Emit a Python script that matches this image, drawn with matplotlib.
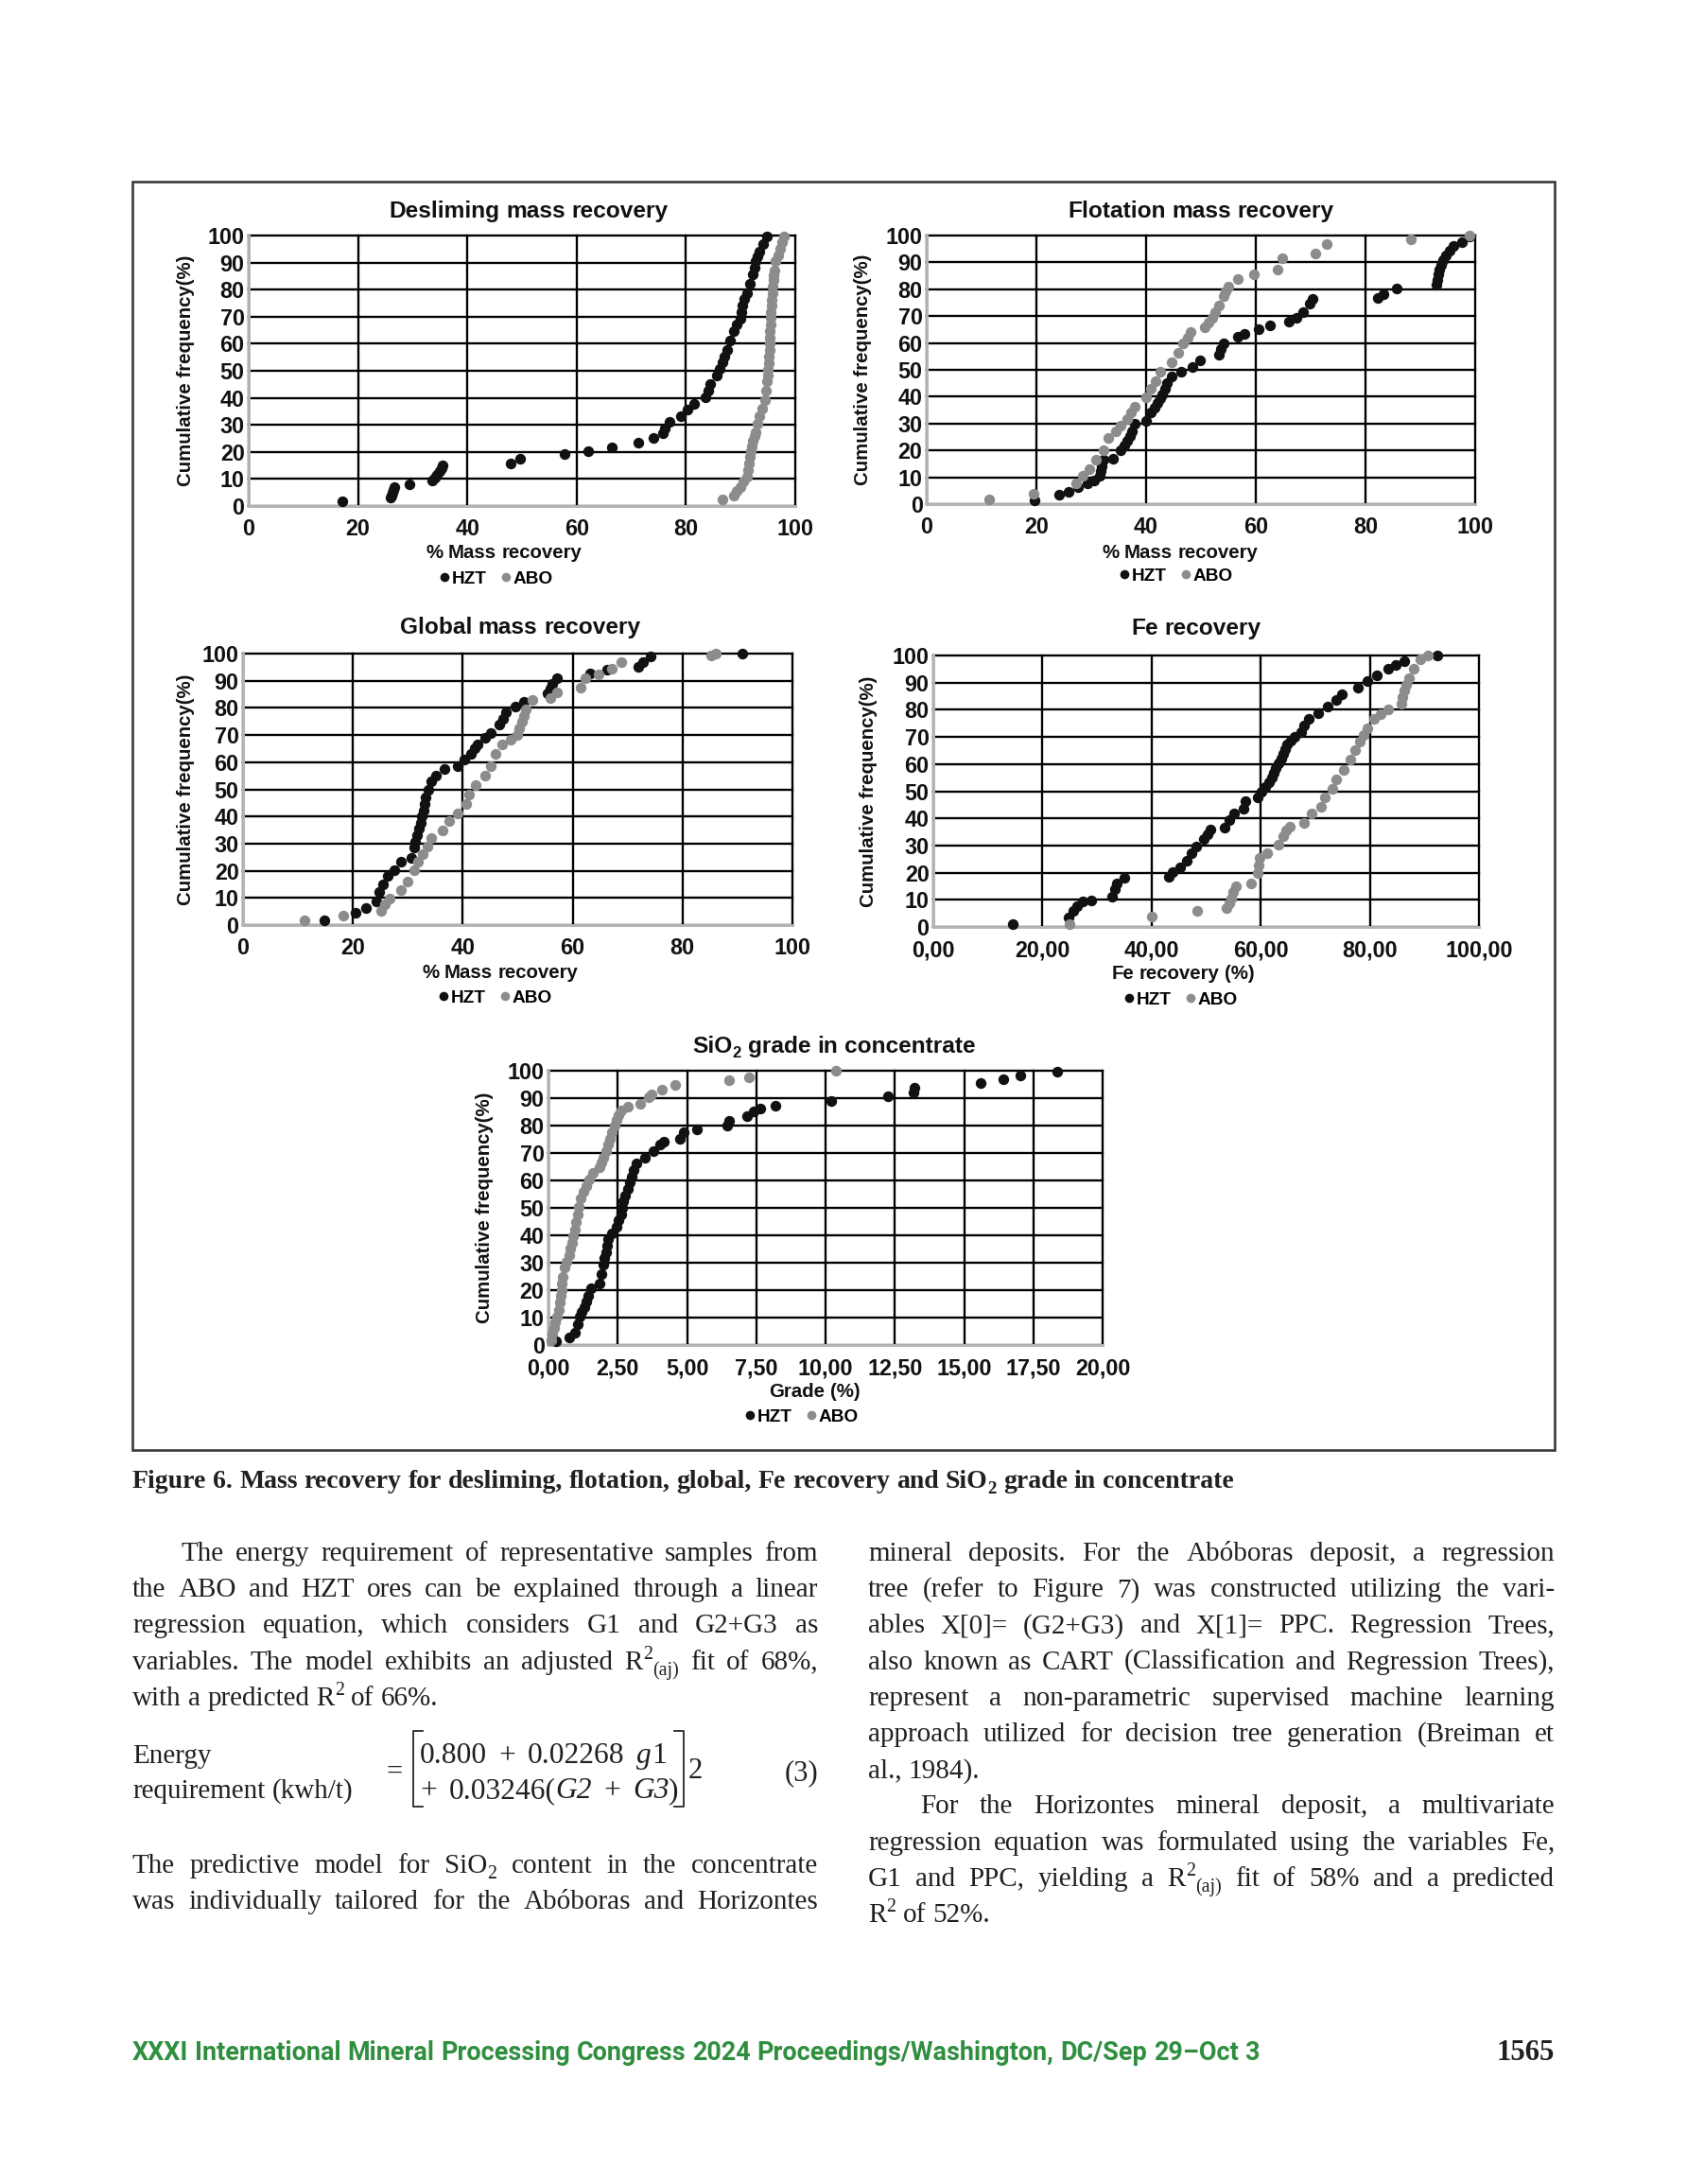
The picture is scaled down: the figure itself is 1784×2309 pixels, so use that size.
# Figure 6 page: five cumulative frequency charts + caption + body text
import numpy as np
import matplotlib
matplotlib.use('Agg')
import matplotlib.pyplot as plt
from matplotlib.lines import Line2D
from matplotlib.patches import Rectangle

plt.rcParams['font.family'] = 'Liberation Sans'

# ---------------------------------------------------------- data (x, cumulative %)
desl_hzt = np.array([[17.1, 1.8], [26.0, 3.0], [26.2, 4.0], [26.3, 5.0], [26.5, 6.0], [26.6, 7.0],
                     [29.4, 8.2], [33.5, 9.3], [34.0, 10.5], [34.5, 11.7], [35.0, 12.8], [35.3, 14.0],
                     [35.5, 15.0], [48.0, 15.8], [49.6, 17.5], [57.7, 19.3], [62.1, 20.4], [66.5, 21.8],
                     [71.2, 23.3], [74.0, 25.0], [75.8, 26.8], [76.2, 28.6], [77.0, 31.0], [79.0, 33.3],
                     [80.2, 35.6], [81.5, 37.9], [83.5, 40.3], [84.0, 42.6], [84.5, 45.0], [85.7, 48.4],
                     [86.2, 50.7], [86.7, 53.0], [87.1, 55.4], [87.5, 57.8], [88.0, 61.3], [88.7, 64.8],
                     [89.3, 67.1], [90.0, 69.4], [90.1, 71.7], [90.3, 74.0], [90.7, 76.4], [91.1, 78.8],
                     [91.7, 82.3], [92.3, 85.8], [92.5, 88.1], [92.7, 90.4], [93.1, 92.2], [93.5, 94.0],
                     [94.2, 97.0], [94.8, 99.8]])
desl_abo = np.array([[86.7, 2.3], [88.7, 4.0], [89.3, 5.5], [89.9, 7.0], [90.5, 9.0], [91.1, 11.0],
                     [91.3, 13.4], [91.5, 15.8], [91.7, 18.1], [91.9, 20.4], [92.1, 22.2], [92.3, 24.0],
                     [92.5, 25.7], [92.7, 27.4], [93.1, 30.5], [93.5, 33.3], [94.0, 36.0], [94.4, 39.0],
                     [94.6, 42.5], [94.8, 46.0], [94.9, 48.2], [95.0, 50.5], [95.1, 52.9], [95.2, 55.4],
                     [95.25, 57.7], [95.3, 60.0], [95.35, 62.4], [95.4, 64.8], [95.45, 67.1], [95.5, 69.5],
                     [95.55, 71.7], [95.6, 74.0], [95.7, 76.2], [95.8, 78.5], [95.9, 81.0], [96.0, 83.4],
                     [96.1, 85.2], [96.2, 87.0], [96.4, 90.4], [96.8, 92.7], [97.2, 95.0], [97.6, 97.5],
                     [98.0, 99.8]])

flot_hzt = np.array([[19.7, 1.4], [24.2, 3.5], [25.9, 4.7], [27.6, 6.5], [29.3, 7.6], [30.6, 8.8],
                     [31.5, 10.6], [31.7, 12.3], [31.9, 14.0], [32.2, 16.4], [34.0, 17.0], [35.3, 20.0],
                     [36.0, 21.7], [36.6, 23.5], [37.0, 25.2], [37.4, 27.0], [37.9, 30.0], [40.0, 31.0],
                     [40.8, 34.0], [41.5, 35.8], [42.1, 37.6], [42.5, 39.3], [43.0, 41.0], [43.4, 43.1],
                     [43.8, 45.2], [44.7, 47.5], [46.4, 49.3], [48.5, 51.0], [49.8, 53.4], [53.2, 55.7],
                     [53.6, 57.8], [54.1, 59.9], [56.7, 62.2], [57.9, 63.4], [60.5, 65.1], [62.6, 66.7],
                     [66.0, 68.0], [67.4, 69.2], [68.6, 71.6], [69.9, 74.5], [70.3, 76.3], [82.3, 76.9],
                     [83.2, 78.0], [85.7, 80.3], [93.0, 81.6], [93.1, 83.6], [93.2, 85.7], [93.5, 87.5],
                     [93.8, 89.2], [94.2, 91.0], [94.7, 92.7], [95.3, 94.5], [96.0, 96.2], [97.6, 97.4],
                     [99.0, 99.8]])
flot_abo = np.array([[11.4, 1.8], [19.5, 3.8], [27.2, 7.6], [28.5, 10.6], [29.7, 12.9], [30.9, 16.4],
                     [32.3, 20.0], [33.1, 24.6], [34.4, 27.0], [35.3, 29.3], [36.6, 31.7], [37.3, 34.0],
                     [37.9, 36.4], [40.0, 39.9], [40.8, 42.8], [41.7, 45.8], [42.6, 49.3], [44.7, 52.8],
                     [45.9, 56.3], [46.8, 59.9], [47.5, 62.0], [48.1, 64.0], [50.7, 65.7], [51.4, 67.5],
                     [52.0, 69.2], [52.6, 71.5], [53.2, 73.9], [54.1, 77.5], [54.5, 79.2], [55.0, 81.0],
                     [56.7, 83.9], [59.7, 85.7], [63.9, 87.4], [64.8, 91.5], [70.8, 93.3], [72.9, 96.8],
                     [88.3, 98.6], [99.0, 100.0]])

glob_hzt = np.array([[14.8, 1.7], [20.5, 4.6], [22.3, 6.1], [24.3, 8.7], [24.7, 12.2], [25.5, 15.1],
                     [26.3, 18.0], [27.5, 20.3], [28.7, 23.2], [30.7, 24.9], [31.1, 28.4], [31.4, 30.7],
                     [31.7, 33.0], [32.0, 35.4], [32.3, 37.7], [32.6, 40.0], [32.9, 42.3], [33.1, 44.7],
                     [33.3, 47.0], [33.8, 49.9], [34.3, 52.8], [35.1, 55.1], [36.7, 57.4], [39.1, 58.6],
                     [40.3, 60.9], [41.5, 63.2], [42.1, 65.0], [42.7, 66.7], [44.0, 69.0], [45.1, 70.8],
                     [46.7, 73.7], [47.3, 76.0], [47.9, 78.3], [49.5, 80.6], [51.1, 82.4], [55.5, 85.3],
                     [55.9, 87.0], [56.3, 88.7], [57.1, 91.0], [63.1, 92.8], [66.3, 94.0], [71.9, 95.1],
                     [72.8, 96.9], [74.2, 99.0], [90.8, 100.0]])
glob_abo = np.array([[11.2, 1.7], [18.3, 3.5], [25.1, 5.2], [25.9, 7.5], [26.7, 9.9], [28.7, 12.8],
                     [29.9, 16.2], [31.1, 20.3], [31.9, 23.2], [32.7, 26.1], [33.5, 29.0], [34.3, 31.9],
                     [36.3, 34.8], [37.5, 38.3], [39.1, 41.2], [40.7, 44.7], [41.1, 48.1], [42.3, 51.6],
                     [44.0, 55.1], [45.1, 58.6], [45.9, 63.2], [47.1, 66.7], [48.7, 68.4], [49.9, 70.2],
                     [50.3, 72.5], [50.7, 74.8], [51.1, 77.1], [51.5, 79.5], [52.7, 82.9], [55.9, 83.5],
                     [57.1, 85.8], [61.5, 87.6], [62.3, 91.0], [64.7, 92.2], [67.1, 94.5], [68.8, 96.8],
                     [85.2, 99.2], [86.0, 100.0]])

fe_hzt = np.array([[14.5, 1.2], [24.7, 3.5], [25.6, 5.8], [26.4, 7.5], [27.3, 9.3], [29.0, 9.9],
                   [32.8, 11.0], [33.3, 13.9], [33.7, 16.2], [35.0, 18.0], [43.1, 18.6], [43.9, 20.3],
                   [45.2, 22.0], [46.5, 24.4], [47.4, 27.3], [48.2, 29.6], [49.5, 32.5], [50.2, 34.2],
                   [50.8, 36.0], [53.4, 36.5], [54.2, 39.4], [55.1, 41.8], [56.8, 43.5], [57.2, 46.4],
                   [59.4, 47.6], [60.2, 49.9], [60.9, 51.6], [61.5, 53.4], [62.0, 55.1], [62.4, 56.8],
                   [62.8, 58.5], [63.2, 60.3], [63.7, 62.0], [64.1, 63.8], [64.5, 65.5], [64.9, 67.3],
                   [65.5, 68.8], [66.2, 70.2], [67.5, 71.9], [68.0, 74.2], [68.8, 76.6], [70.5, 78.9],
                   [72.2, 81.2], [73.9, 83.5], [74.8, 85.8], [77.8, 88.2], [79.5, 90.5], [81.2, 92.8],
                   [83.3, 95.1], [84.8, 96.5], [86.3, 98.0], [92.3, 100.0]])
fe_abo = np.array([[25.0, 1.2], [40.0, 3.7], [48.4, 5.8], [53.8, 7.0], [54.2, 8.7], [54.6, 10.4],
                   [55.0, 12.8], [55.5, 15.1], [58.3, 16.2], [59.4, 19.7], [59.6, 22.6], [59.8, 25.5],
                   [61.1, 27.3], [63.2, 30.2], [64.1, 33.6], [64.7, 35.4], [65.4, 37.1], [68.0, 38.3],
                   [69.3, 41.8], [71.0, 44.1], [71.8, 47.6], [73.1, 51.0], [73.9, 54.5], [75.2, 58.0],
                   [76.5, 61.5], [77.3, 65.0], [78.2, 68.4], [78.8, 70.8], [79.5, 73.1], [80.7, 76.6],
                   [82.0, 78.3], [83.3, 80.0], [85.8, 82.4], [86.0, 84.7], [86.3, 87.0], [86.7, 89.3],
                   [87.1, 91.6], [88.0, 95.1], [89.3, 98.6], [90.6, 100.0]])

sio2_hzt = np.array([[0.27, 1.5], [0.74, 2.9], [0.94, 4.6], [1.05, 7.5], [1.13, 10.3], [1.20, 12.0],
                     [1.28, 13.8], [1.36, 15.8], [1.44, 17.8], [1.52, 20.7], [1.83, 22.4], [1.91, 25.9],
                     [1.99, 29.3], [2.03, 31.6], [2.07, 33.9], [2.11, 36.2], [2.15, 38.5], [2.30, 40.8],
                     [2.46, 43.1], [2.54, 45.4], [2.62, 47.7], [2.66, 50.0], [2.69, 52.3], [2.77, 54.6],
                     [2.85, 56.9], [2.93, 59.2], [3.01, 61.5], [3.08, 63.8], [3.16, 66.1], [3.48, 68.4],
                     [3.79, 70.7], [4.03, 73.0], [4.18, 74.1], [4.73, 75.3], [4.89, 77.6], [5.36, 78.7],
                     [6.45, 79.9], [6.53, 81.6], [7.16, 83.3], [7.39, 85.1], [7.63, 86.2], [8.18, 87.4],
                     [10.21, 89.1], [12.25, 90.8], [13.19, 92.0], [13.22, 93.7], [15.61, 95.4],
                     [16.40, 96.9], [17.02, 98.3], [18.36, 99.7]])
sio2_abo = np.array([[0.11, 1.7], [0.15, 4.0], [0.19, 6.3], [0.25, 8.3], [0.31, 10.3], [0.37, 12.9],
                     [0.42, 15.5], [0.45, 17.8], [0.47, 20.1], [0.49, 22.4], [0.50, 24.7], [0.58, 28.2],
                     [0.66, 30.5], [0.74, 32.8], [0.80, 35.1], [0.85, 37.4], [0.90, 39.7], [0.94, 42.0],
                     [1.00, 44.9], [1.05, 47.7], [1.10, 50.5], [1.16, 53.4], [1.26, 55.7], [1.36, 58.0],
                     [1.48, 60.3], [1.60, 62.6], [1.83, 64.9], [1.91, 66.6], [1.99, 68.4], [2.07, 70.7],
                     [2.15, 73.0], [2.22, 75.3], [2.30, 77.6], [2.38, 79.9], [2.46, 82.2], [2.54, 83.9],
                     [2.62, 85.6], [2.85, 86.8], [3.32, 87.9], [3.63, 90.2], [3.71, 91.4], [4.10, 93.1],
                     [4.57, 94.8], [6.53, 96.6], [7.24, 97.7], [10.37, 100.0]])

pct_ticks = ['0', '20', '40', '60', '80', '100']
fe_ticks = ['0,00', '20,00', '40,00', '60,00', '80,00', '100,00']
sio2_ticks = ['0,00', '2,50', '5,00', '7,50', '10,00', '12,50', '15,00', '17,50', '20,00']

# ---------------------------------------------------------- page text
left_p1 = ["The energy requirement of representative samples from",
           "the ABO and HZT ores can be explained through a linear",
           "regression equation, which considers G1 and G2+G3 as",
           "variables. The model exhibits an adjusted R^{2}_{(aj)} fit of 68%,",
           "with a predicted R^{2} of 66%."]
left_p2 = ["The predictive model for SiO_{2} content in the concentrate",
           "was individually tailored for the Abóboras and Horizontes"]
right_p1 = ["mineral deposits. For the Abóboras deposit, a regression",
            "tree (refer to Figure 7) was constructed utilizing the vari-",
            "ables X[0]= (G2+G3) and X[1]= PPC. Regression Trees,",
            "also known as CART (Classification and Regression Trees),",
            "represent a non-parametric supervised machine learning",
            "approach utilized for decision tree generation (Breiman et",
            "al., 1984)."]
right_p2 = ["For the Horizontes mineral deposit, a multivariate",
            "regression equation was formulated using the variables Fe,",
            "G1 and PPC, yielding a R^{2}_{(aj)} fit of 58% and a predicted",
            "R^{2} of 52%."]
caption = "Figure 6. Mass recovery for desliming, flotation, global, Fe recovery and SiO_{2} grade in concentrate"
footer = "XXXI International Mineral Processing Congress 2024 Proceedings/Washington, DC/Sep 29–Oct 3"

# ---------------------------------------------------------- figure
W, H = 1784, 2309
DPI = 210
fig = plt.figure(figsize=(W / DPI, H / DPI), dpi=DPI, facecolor='w')
renderer = fig.canvas.get_renderer()
SERIF = 'Liberation Serif'
SANS = 'Liberation Sans'
INK = '#111111'


def fx(px):
    return px / W


def fy(py):
    return 1 - py / H


def parse(word):
    # ^{..} superscript, _{..} subscript, *{..} italic
    runs, buf, i = [], '', 0
    while i < len(word):
        c = word[i]
        if c in '^_*' and word[i + 1:i + 2] == '{':
            if buf:
                runs.append((buf, 'n'))
                buf = ''
            j = word.index('}', i)
            runs.append((word[i + 2:j], {'^': 'sup', '_': 'sub', '*': 'it'}[c]))
            i = j + 1
        else:
            buf += c
            i += 1
    if buf:
        runs.append((buf, 'n'))
    return runs


def word_artists(word, size, **kw):
    em = size * DPI / 72
    out = []
    for txt, kind in parse(word):
        s, dy, style = size, 0, 'normal'
        if kind == 'sup':
            s, dy = size * 0.68, -0.38 * em
        elif kind == 'sub':
            s, dy = size * 0.68, 0.22 * em
        elif kind == 'it':
            style = 'italic'
        t = fig.text(0, 0, txt, fontsize=s, fontstyle=style, ha='left', va='baseline', **kw)
        out.append([t, t.get_window_extent(renderer).width, dy])
    return out


def text_line(x, y, line, size, width=None, ha='left', space=0.25, **kw):
    # x, y in pixels from top-left, y = baseline
    words = [word_artists(w, size, **kw) for w in line.split()]
    widths = [sum(a[1] for a in w) for w in words]
    gap = space * size * DPI / 72
    if width is not None and len(words) > 1:
        gap = (width - sum(widths)) / (len(words) - 1)
    total = sum(widths) + gap * (len(words) - 1)
    if ha == 'center':
        x = x - total / 2
    elif ha == 'right':
        x = x - total
    for w, ww in zip(words, widths):
        cx = x
        for t, tw, dy in w:
            t.set_position((fx(cx), fy(y + dy)))
            cx += tw
        x += ww + gap
    return total


def line_width(line, size, space=0.25, **kw):
    words = [word_artists(w, size, **kw) for w in line.split()]
    total = sum(a[1] for w in words for a in w) + space * size * DPI / 72 * (len(words) - 1)
    for w in words:
        for a in w:
            a[0].remove()
    return total


def paragraph(x0, x1, y0, lines, indent, justify_last=False, size=10):
    for i, ln in enumerate(lines):
        xs = x0 + (indent if i == 0 else 0)
        last = (i == len(lines) - 1) and not justify_last
        text_line(xs, y0 + i * LEAD, ln, size, width=None if last else x1 - xs,
                  family=SERIF, color='#231f20')


def chart(box, hzt, abo, xmax, xstep, xticks, title, tpos, xlabel, xlpos, lgpos, ylx):
    l, t, r, b = box
    ax = fig.add_axes([fx(l), fy(b), (r - l) / W, (b - t) / H])
    ax.set_xlim(0, xmax)
    ax.set_ylim(0, 100)
    ax.set_xticks(np.arange(0, xmax + xstep / 2, xstep))
    ax.set_xticklabels(xticks)
    ax.set_yticks(np.arange(0, 101, 10))
    ax.set_axisbelow(True)
    ax.grid(True, color='black', lw=0.8)
    for g in ax.get_xgridlines() + ax.get_ygridlines():
        g.set_clip_on(False)
    for s in ['top', 'right']:
        ax.spines[s].set_visible(False)
    for s in ['left', 'bottom']:
        ax.spines[s].set_color('#b5b5b5')
        ax.spines[s].set_linewidth(1.0)
    ax.tick_params(length=0, labelsize=8)
    ax.tick_params(axis='x', pad=4.5)
    ax.tick_params(axis='y', pad=1.5)
    for lab in ax.get_xticklabels() + ax.get_yticklabels():
        lab.set_fontweight('bold')
        lab.set_color(INK)
    h1, = ax.plot(hzt[:, 0], hzt[:, 1], 'o', ms=3.9, color=INK, mec='none',
                  label='HZT', clip_on=False, zorder=3)
    h2, = ax.plot(abo[:, 0], abo[:, 1], 'o', ms=3.9, color='#8c8c8c', mec='none',
                  label='ABO', clip_on=False, zorder=3)
    text_line(tpos[0], tpos[1], title, 8.4, ha='center', space=0.278,
              family=SANS, fontweight='bold', color=INK)
    text_line(xlpos[0], xlpos[1], xlabel, 7, ha='center', space=0.278,
              family=SANS, fontweight='bold', color=INK)
    fig.text(fx(ylx), fy((t + b) / 2), 'Cumulative frequency(%)', rotation=90, ha='center',
             va='center', fontsize=7, fontweight='bold', color=INK)
    ax.legend(handles=[h1, h2], loc='center', bbox_to_anchor=(fx(lgpos[0]), fy(lgpos[1])),
              bbox_transform=fig.transFigure, ncol=2, frameon=False,
              prop=dict(family=SANS, weight='bold', size=6.5), handlelength=0.5,
              handletextpad=0.15, columnspacing=0.8, borderpad=0, borderaxespad=0,
              markerscale=0.85)
    return ax


# frame round the figure
fig.add_artist(Rectangle((fx(140), fy(1533)), (1644 - 140) / W, (1533 - 192) / H,
                         transform=fig.transFigure, fill=False, ec='#3a3a3a', lw=0.9))

chart((263, 249, 841, 535), desl_hzt, desl_abo, 100, 20, pct_ticks, 'Desliming mass recovery',
      (559, 230), '% Mass recovery', (533, 590), (525, 612), 196)
chart((980, 249, 1560, 533), flot_hzt, flot_abo, 100, 20, pct_ticks, 'Flotation mass recovery',
      (1270, 230), '% Mass recovery', (1248, 590), (1244, 609), 912)
chart((257, 691, 838, 978), glob_hzt, glob_abo, 100, 20, pct_ticks, 'Global mass recovery',
      (550, 670), '% Mass recovery', (529, 1034), (524, 1055), 196)
chart((987, 693, 1564, 980), fe_hzt, fe_abo, 100, 20, fe_ticks, 'Fe recovery',
      (1265, 671), 'Fe recovery (%)', (1251, 1035), (1249, 1057), 919)
chart((580, 1132, 1166, 1422), sio2_hzt, sio2_abo, 20, 2.5, sio2_ticks, 'SiO_{2} grade in concentrate',
      (882, 1113), 'Grade (%)', (861, 1477), (848, 1498), 512)

# caption, fitted to its width on the page
cap_size = 10 * 1163 / line_width(caption, 10, family=SERIF, fontweight='bold')
text_line(140, 1573, caption, cap_size, family=SERIF, fontweight='bold', color='#231f20')

# body text
LEAD = 38.2
paragraph(140, 865, 1650, left_p1, 52)
paragraph(140, 865, 1980, left_p2, 0, justify_last=True)
paragraph(918, 1644, 1650, right_p1, 0)
paragraph(918, 1644, 1650 + 7 * LEAD, right_p2, 55)

# equation (3)
eq = dict(family=SERIF, color='#231f20')
text_line(140, 1864, 'Energy', 10, **eq)
text_line(140, 1901, 'requirement (kwh/t)', 10, **eq)
text_line(417, 1882, '=', 10.5, ha='center', **eq)
text_line(444, 1864, '0.800 +  0.02268 *{g}1', 10.8, space=0.4, **eq)
text_line(444, 1901, '+ 0.03246(*{G2} + *{G3})', 10.8, space=0.4, **eq)
text_line(728, 1880, '2', 10.5, **eq)
text_line(865, 1882, '(3)', 10.5, ha='right', **eq)
for xs, xe in [(437, 447), (723, 713)]:
    fig.add_artist(Line2D([fx(xe), fx(xs), fx(xs), fx(xe)], [fy(1830), fy(1830), fy(1910), fy(1910)],
                          transform=fig.transFigure, color='#231f20', lw=0.6))

# footer
ft_size = 10 * 1194 / line_width(footer, 10, space=0.25, family='Roboto', fontweight='bold')
text_line(140, 2178, footer, ft_size, space=0.25, family='Roboto', fontweight='bold', color='#2f8f3f')
text_line(1644, 2178, '1565', 10.5, ha='right', family=SERIF, fontweight='bold', color='#231f20')

fig.savefig('out.png', dpi=DPI, facecolor='w')
